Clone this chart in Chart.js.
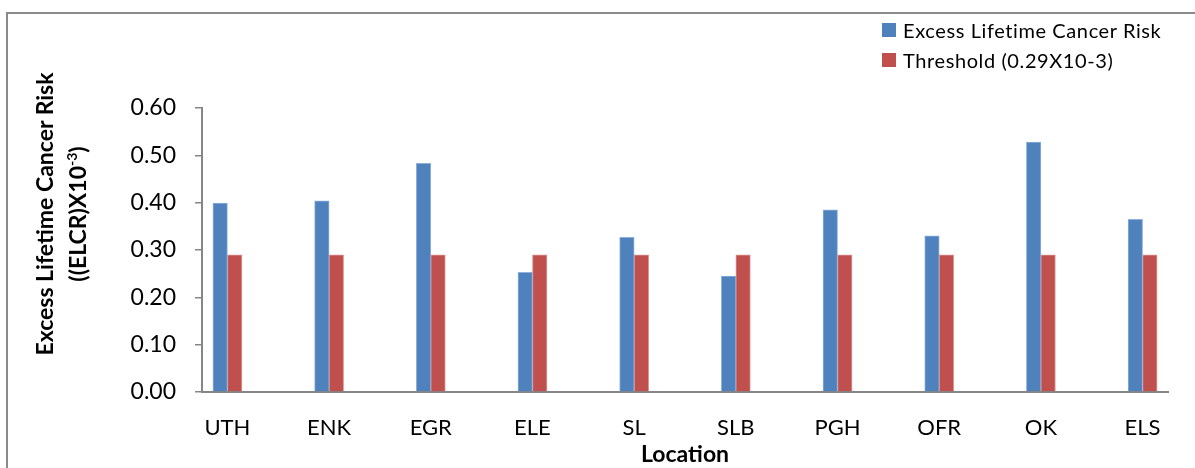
<!DOCTYPE html>
<html>
<head>
<meta charset="utf-8">
<script src="https://cdn.jsdelivr.net/npm/chart.js@4/dist/chart.umd.min.js"></script>
<style>
  html, body { margin:0; padding:0; width:1195px; height:468px; overflow:hidden; background:#fff; }
  #wrap { position:relative; width:1195px; height:468px; }
  #frame { position:absolute; left:6px; top:12px; width:1300px; height:600px; border-left:2px solid #8a8a8a; border-top:2px solid #8a8a8a; box-sizing:border-box; }
  canvas { position:absolute; left:0; top:0; }
  #ytitle { position:absolute; width:360px; height:66px; left:-119px; top:181px; transform:rotate(-90deg); transform-origin:center center;
            font:bold 23px Lato, sans-serif; line-height:33px; text-align:center; color:#000; white-space:nowrap; }
  #ytitle sup { font-size:14px; line-height:0; }
  #legend { position:absolute; left:882px; top:15px; font:20px Lato, sans-serif; letter-spacing:0.6px; color:#000; }
  #legend .row { height:30px; line-height:30px; display:flex; align-items:center; white-space:nowrap; }
  #legend .sw { width:14px; height:14px; margin-right:7px; display:inline-block; }
</style>
</head>
<body>
<div id="wrap">
  <div id="frame"></div>
  <canvas id="c" width="1195" height="468"></canvas>
  <div id="ytitle">Excess Lifetime Cancer Risk<br>((ELCR)X10<sup>-3</sup>)</div>
  <div id="legend"></div>
</div>
<script>
const categories = ["UTH","ENK","EGR","ELE","SL","SLB","PGH","OFR","OK","ELS"];
const elcrValues = [0.399, 0.404, 0.483, 0.253, 0.327, 0.245, 0.385, 0.330, 0.528, 0.365];
const thresholdValues = [0.29, 0.29, 0.29, 0.29, 0.29, 0.29, 0.29, 0.29, 0.29, 0.29];
const seriesNames = ["Excess Lifetime Cancer Risk", "Threshold (0.29X10-3)"];
const seriesColors = ["#4F81BD", "#C0504D"];
const seriesBorders = ["#8DB0DC", "#DE9593"];
const yTicks = [0, 0.1, 0.2, 0.3, 0.4, 0.5, 0.6];

const legend = document.getElementById('legend');
seriesNames.forEach((n, i) => {
  const r = document.createElement('div'); r.className = 'row';
  const s = document.createElement('span'); s.className = 'sw'; s.style.background = seriesColors[i];
  const t = document.createElement('span'); t.textContent = n;
  r.appendChild(s); r.appendChild(t); legend.appendChild(r);
});

const toPts = arr => arr.map((v, i) => ({x: i, y: v}));
const axisColor = '#868686';

new Chart(document.getElementById('c'), {
  type: 'bar',
  data: {
    datasets: [
      { label: seriesNames[0], data: toPts(elcrValues), backgroundColor: seriesColors[0], borderColor: seriesBorders[0], borderWidth: 1, barThickness: 14.5 },
      { label: seriesNames[1], data: toPts(thresholdValues), backgroundColor: seriesColors[1], borderColor: seriesBorders[1], borderWidth: 1, barThickness: 14.5 }
    ]
  },
  options: {
    responsive: false,
    animation: false,
    layout: { padding: { left: 0, top: 108, right: 27, bottom: 0 } },
    plugins: { legend: { display: false }, tooltip: { enabled: false } },
    scales: {
      x: {
        type: 'linear',
        offset: false,
        min: -0.25, max: 9.25,
        afterFit: s => { s.height = 76; },
        afterBuildTicks: s => { s.ticks = categories.map((c, i) => ({ value: i })); },
        grid: { display: false, offset: false },
        border: { display: true, color: axisColor, width: 2 },
        ticks: { callback: v => categories[v], font: { family: 'Lato', size: 22 }, color: '#000', padding: 15, maxRotation: 0, autoSkip: false },
        title: { display: true, text: 'Location', font: { family: 'Lato', size: 23, weight: 'bold' }, color: '#000', padding: { top: 0, bottom: 0 } }
      },
      y: {
        min: 0, max: 0.6,
        afterFit: s => { s.width = 202; },
        afterBuildTicks: s => { s.ticks = yTicks.map(v => ({ value: v })); },
        grid: { display: true, drawOnChartArea: false, drawTicks: true, tickLength: 7, color: axisColor, lineWidth: 1.5 },
        border: { display: true, color: axisColor, width: 2 },
        ticks: { callback: v => v.toFixed(2), font: { family: 'Lato', size: 23 }, color: '#000', padding: 19 }
      }
    }
  }
});
</script>
</body>
</html>
